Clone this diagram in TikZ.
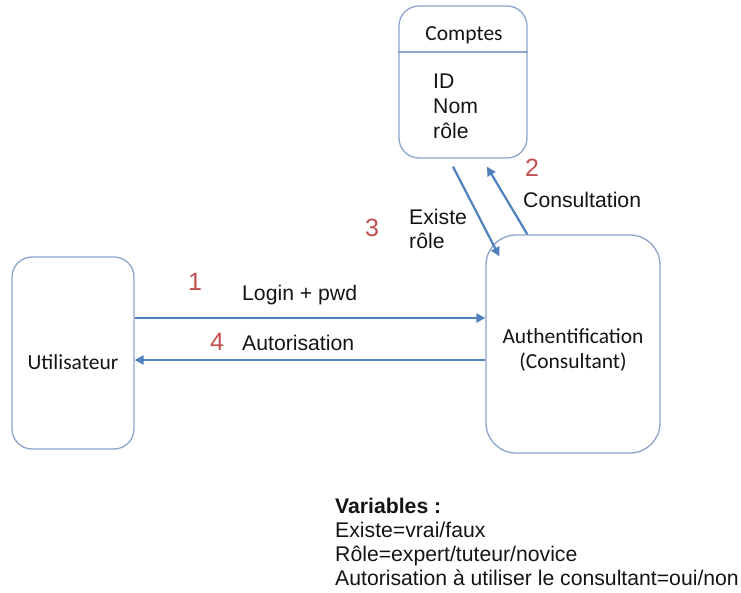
\documentclass[tikz,border=0pt]{standalone}
\usepackage{fontspec}
\setmainfont{Liberation Sans}
\newfontfamily\calib{Carlito}
\usetikzlibrary{arrows.meta,calc}
\definecolor{arrowblue}{RGB}{79,129,189}
\definecolor{boxblue}{RGB}{140,165,205}
\definecolor{numred}{RGB}{192,80,77}
\definecolor{txt}{RGB}{20,20,20}
\tikzset{
  box/.style={draw=boxblue, line width=1.3pt, fill=white, inner sep=0pt},
  flow/.style={draw=arrowblue, line width=2.2pt, -{Triangle[length=9pt,width=9pt]}},
  lbl/.style={font=\fontsize{21.2}{25}\selectfont, text=txt, anchor=base west, inner sep=0pt},
  boxtxt/.style={font=\calib\fontsize{21.5}{25.5}\selectfont, text=txt, inner sep=0pt},
  num/.style={font=\fontsize{25}{28}\selectfont, text=numred, inner sep=0pt},
}
\begin{document}
\begin{tikzpicture}[x=1pt,y=-1pt]
\useasboundingbox (0,0) rectangle (741,592);
% boxes
\node[box, rounded corners=20pt, minimum width=128pt, minimum height=152pt] (comptes) at (463,82) {};
\draw[boxblue, line width=1.6pt] ($(comptes.west)+(0,-30)$) -- ($(comptes.east)+(0,-30)$);
\node[box, rounded corners=20pt, minimum width=122pt, minimum height=192pt] (util) at (73,353) {};
\node[box, rounded corners=30pt, minimum width=174pt, minimum height=218pt] (auth) at (573,344) {};
% box texts
\node[boxtxt, anchor=base] (ctitle) at (464,40) {Comptes};
\node[lbl] (cid) at (433,88) {ID};
\node[lbl] (cnom) at (433,113) {Nom};
\node[lbl] (crole) at (433,138) {rôle};
\node[boxtxt] (utxt) at (73,362) {Utilisateur};
\node[boxtxt, align=center] (atxt) at (573,350) {Authentification\\(Consultant)};
% connectors
\draw[flow] ($(util.east)+(0,-35)$) -- ($(auth.west)+(0,-26)$);
\draw[flow] ($(auth.west)+(0,16)$) -- ($(util.east)+(0,7)$);
\coordinate (exEnd) at ($(auth.north west)+(14,22)$);
\coordinate (coStart) at ($(auth.north west)+(42,0)$);
\draw[flow] ($(comptes.south)+(-10,8)$) -- (exEnd);
\draw[flow] (coStart) -- ($(comptes.south)+(24,8)$);
% labels
\node[num] (n1) at (195,282) {1};
\node[lbl] (login) at (242,300) {Login + pwd};
\node[num] (n4) at (217,342) {4};
\node[lbl] (autor) at (242,350) {Autorisation};
\node[num] (n2) at (532,168) {2};
\node[lbl] (consul) at (523,207) {Consultation};
\node[num] (n3) at (372,228) {3};
\node[lbl] (exist) at (409,224) {Existe};
\node[lbl] (exrole) at (409,248) {rôle};
% variables
\node[lbl, font=\bfseries\fontsize{21.2}{25}\selectfont] (v0) at (335,513) {Variables :};
\node[lbl] (v1) at (335,537) {Existe=vrai/faux};
\node[lbl] (v2) at (335,561) {Rôle=expert/tuteur/novice};
\node[lbl] (v3) at (335,585) {Autorisation à utiliser le consultant=oui/non};
\end{tikzpicture}
\end{document}
